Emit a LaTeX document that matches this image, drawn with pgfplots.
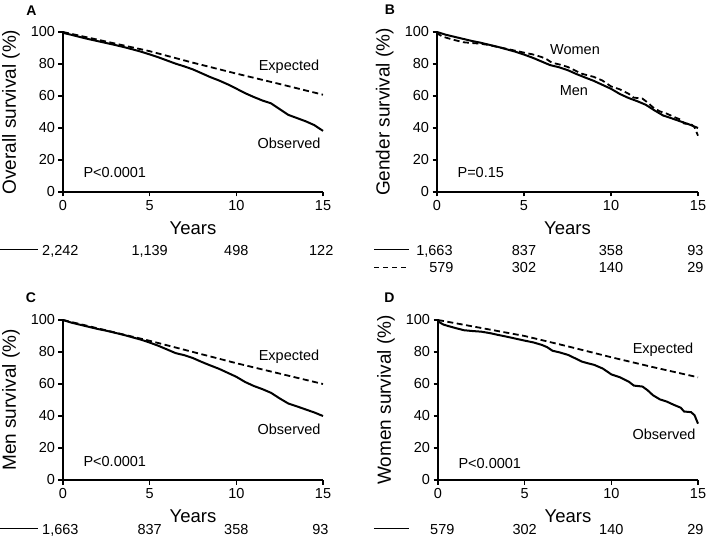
\documentclass[border=0pt]{standalone}
\usepackage{fontspec}
\setmainfont{Liberation Sans}
\usepackage{pgfplots}
\pgfplotsset{compat=1.18}
\newcommand{\fs}[1]{\fontsize{#1}{#1}\selectfont}
\pgfplotsset{km/.style={
  scale only axis, width=260pt, height=160pt,
  xmin=0,xmax=15,ymin=0,ymax=100,
  axis lines=left, axis line style={-, line width=1.6pt},
  xtick={0,5,10,15}, ytick={0,20,...,100},
  tick align=outside, major tick length=4.5pt,
  tick style={line width=1.3pt, black},
  tick label style={font=\fs{14.5}},
  /pgf/number format/assume math mode=true,
  xlabel={Years},
  xlabel style={font=\fs{18.5}, at={(axis description cs:0.5,-0.225)}, anchor=center},
  ylabel style={font=\fs{19}, at={(axis description cs:-0.2,0.5)}, anchor=center},
  clip=false,
  anchor=south west,
}}
\tikzset{
obs/.style={black, line width=2pt},
exp/.style={black, line width=1.8pt, dash pattern=on 6pt off 3.5pt},
ann/.style={font=\fs{14.5}},
rk/.style={font=\fs{14.5}, anchor=base},
rke/.style={font=\fs{14.5}, anchor=base east},
lett/.style={font=\bfseries\fs{14}}
}
\pgfplotstableread{
t s
0 100
0.1 99.2
0.5 98.2
1 96.8
1.5 95.5
2 94.3
2.5 93.1
3 91.9
3.5 90.6
4 89.2
4.5 87.7
5 86.0
5.5 84.2
6 82.2
6.5 80.2
7 78.5
7.5 76.6
8 74.2
8.5 71.8
9 69.7
9.5 67.3
10 64.6
10.5 61.8
11 59.4
11.5 57.2
12 55.4
12.5 51.8
13 48.2
13.5 46.2
14 44.2
14.5 41.8
15 38.2
}\obsA
\pgfplotstableread{
t s
0 100
2.5 94.0
5 88.0
7.5 80.8
10 74.0
12.5 67.5
15 60.8
}\expA
\pgfplotstableread{
t s
0 100
0.5 98.3
1 97.0
1.5 95.7
2 94.4
2.5 93.3
3 92.0
3.5 90.7
4 89.2
4.5 87.7
5 85.9
5.5 83.9
6 81.6
6.5 79.3
7 78.0
7.5 76.2
8 73.8
8.5 71.6
9 69.5
9.5 67.0
10 64.5
10.5 61.3
11 58.8
11.5 56.8
12 54.5
12.5 51.0
13 47.8
13.5 46.0
14 44.1
14.5 42.2
15 40.0
}\obsC
\pgfplotstableread{
t s
0 100
2.5 93.5
5 87.0
7.5 80.0
10 73.0
12.5 66.5
15 60.0
}\expC
\pgfplotstableread{
t s
0 100
0.1 98.5
0.3 97.2
0.6 96.2
1 95.0
1.5 93.6
2 93.1
2.5 92.7
3 91.8
3.5 90.6
4 89.5
4.5 88.3
5 87.1
5.5 86.0
6 84.4
6.3 83.0
6.6 80.8
7 79.8
7.5 78.2
8 75.6
8.3 74.0
8.7 72.8
9 72.0
9.5 69.7
9.8 67.5
10 66.0
10.5 64.2
11 61.5
11.3 59.0
11.8 58.4
12.1 56.0
12.4 53.0
12.8 50.4
13.2 49.0
13.6 47.0
14 45.2
14.2 42.8
14.6 42.4
14.8 40.5
15 35.2
}\obsD
\pgfplotstableread{
t s
0 100
2.5 95.0
5 90.0
7.5 83.5
10 76.7
12.5 70.3
15 64.2
}\expD
\begin{document}
\begin{tikzpicture}
\useasboundingbox (0,0) rectangle (709pt,544pt);
% Panel A
\begin{axis}[km, at={(63pt,352pt)}, ylabel={Overall survival (\%)}]
\addplot[exp] table[x=t,y=s] {\expA};
\addplot[obs] table[x=t,y=s] {\obsA};
\node[ann] at (axis cs:13.04,78.1) {Expected};
\node[ann] at (axis cs:13.04,30.6) {Observed};
\node[ann, anchor=west] at (axis cs:0.98,11.9) {P<0.0001};
\node[lett] at (axis cs:-1.82,113.1) {A};
\draw[line width=1pt] (axis cs:-3.63,-36.25) -- (axis cs:-1.45,-36.25);
\node[rke] at (axis cs:1.1,-39.6) {2,242};
\node[rk] at (axis cs:5,-39.6) {1,139};
\node[rk] at (axis cs:10,-39.6) {498};
\node[rk] at (axis cs:14.9,-39.6) {122};
\end{axis}
% Panel B
\begin{axis}[km, at={(437pt,352pt)}, width=261pt, ylabel={Gender survival (\%)}]
\addplot[exp] table[x=t,y=s] {\obsD};
\addplot[obs] table[x=t,y=s] {\obsC};
\node[ann] at (axis cs:7.93,88.75) {Women};
\node[ann] at (axis cs:7.87,63.1) {Men};
\node[ann, anchor=west] at (axis cs:0.98,11.9) {P=0.15};
\node[lett] at (axis cs:-2.7,113.75) {B};
\draw[line width=1pt] (axis cs:-3.6,-36.25) -- (axis cs:-1.6,-36.25);
\draw[line width=1pt, dash pattern=on 5pt off 4pt] (axis cs:-3.6,-46.9) -- (axis cs:-1.6,-46.9);
\node[rke] at (axis cs:1.1,-39.6) {1,663};
\node[rk] at (axis cs:5,-39.6) {837};
\node[rk] at (axis cs:10,-39.6) {358};
\node[rk] at (axis cs:14.85,-39.6) {93};
\node[rke] at (axis cs:1.15,-50.3) {579};
\node[rk] at (axis cs:5,-50.3) {302};
\node[rk] at (axis cs:10,-50.3) {140};
\node[rk] at (axis cs:14.85,-50.3) {29};
\end{axis}
% Panel C
\begin{axis}[km, at={(63pt,64pt)}, ylabel={Men survival (\%)}]
\addplot[exp] table[x=t,y=s] {\expC};
\addplot[obs] table[x=t,y=s] {\obsC};
\node[ann] at (axis cs:13.04,76.9) {Expected};
\node[ann] at (axis cs:13.04,31.9) {Observed};
\node[ann, anchor=west] at (axis cs:0.98,11.25) {P<0.0001};
\node[lett] at (axis cs:-1.85,113.75) {C};
\draw[line width=1pt] (axis cs:-3.63,-30.6) -- (axis cs:-1.45,-30.6);
\node[rke] at (axis cs:1.1,-34) {1,663};
\node[rk] at (axis cs:5,-34) {837};
\node[rk] at (axis cs:10,-34) {358};
\node[rk] at (axis cs:14.85,-34) {93};
\end{axis}
% Panel D
\begin{axis}[km, at={(438pt,64pt)}, ylabel={Women survival (\%)}]
\addplot[exp] table[x=t,y=s] {\expD};
\addplot[obs] table[x=t,y=s] {\obsD};
\node[ann] at (axis cs:12.98,81.25) {Expected};
\node[ann] at (axis cs:13.04,28.75) {Observed};
\node[ann, anchor=west] at (axis cs:0.98,10.6) {P<0.0001};
\node[lett] at (axis cs:-2.8,113.75) {D};
\draw[line width=1pt] (axis cs:-3.7,-30.6) -- (axis cs:-1.66,-30.6);
\node[rke] at (axis cs:1.15,-34) {579};
\node[rk] at (axis cs:5,-34) {302};
\node[rk] at (axis cs:10,-34) {140};
\node[rk] at (axis cs:14.85,-34) {29};
\end{axis}
\end{tikzpicture}
\end{document}
